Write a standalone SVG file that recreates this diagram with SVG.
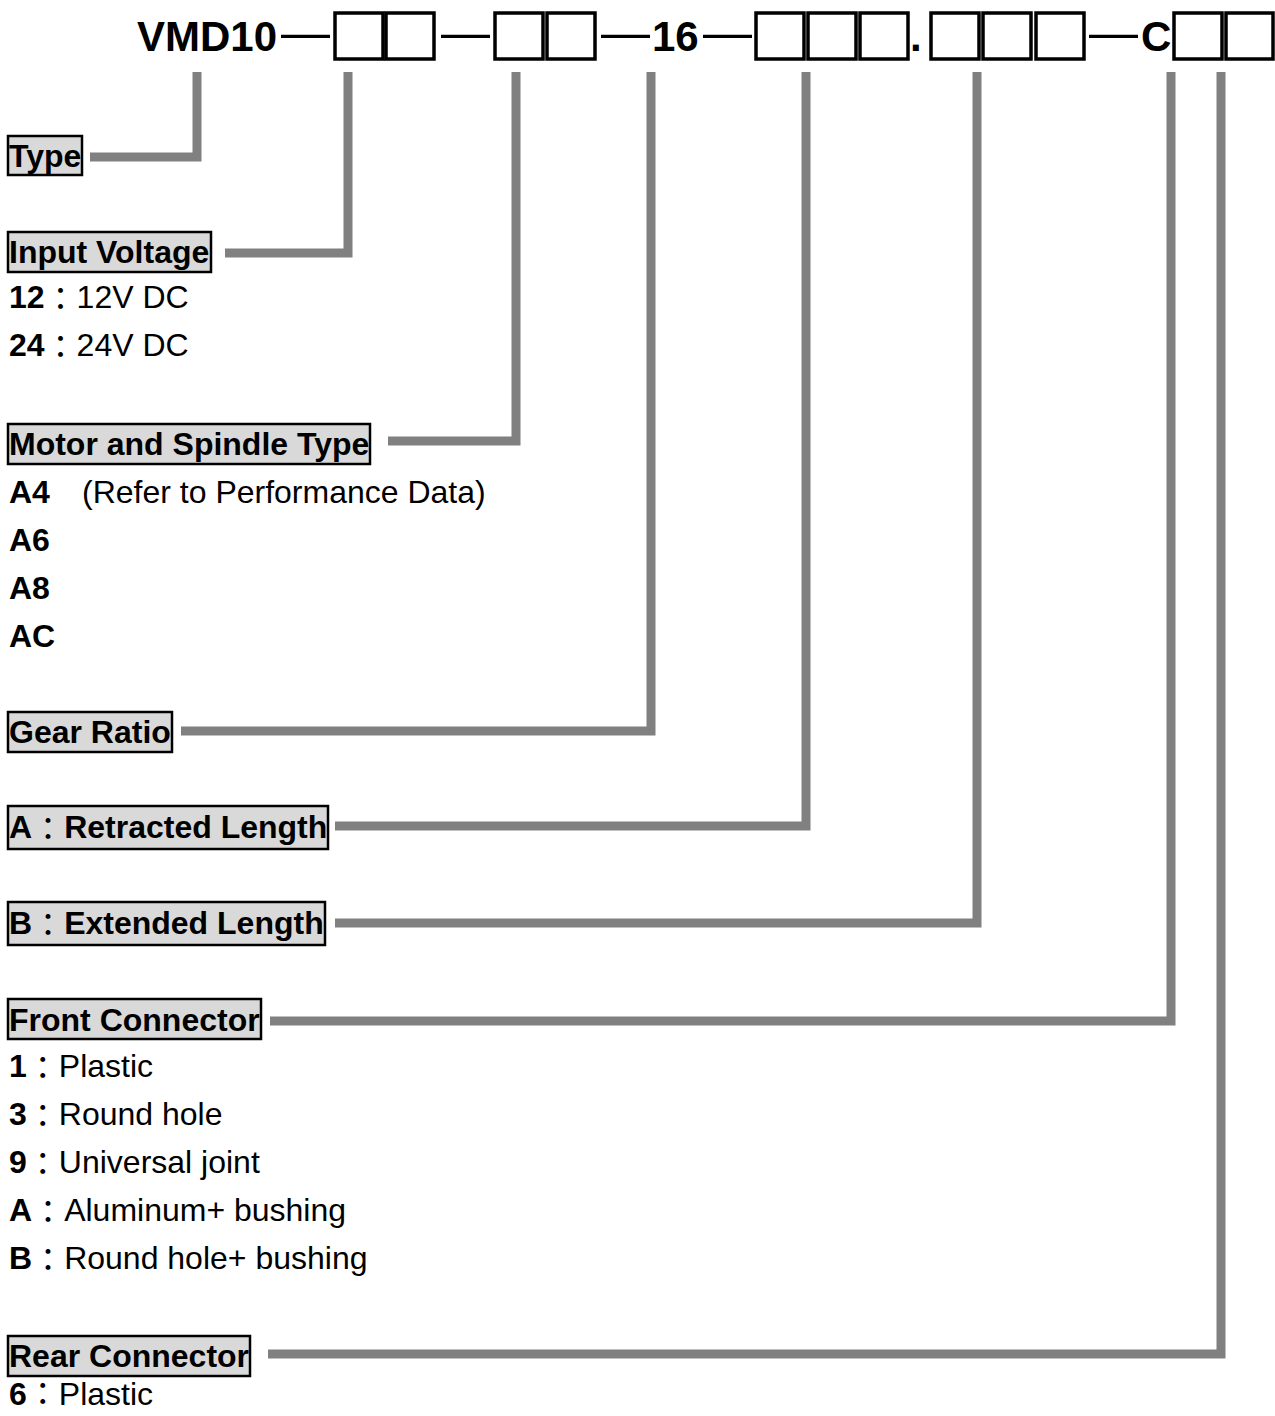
<svg xmlns="http://www.w3.org/2000/svg" width="1275" height="1416" viewBox="0 0 1275 1416">
<style>
  text { font-family: "Liberation Sans", Arial, sans-serif; fill: #000; }
  .hd { font-size: 42px; font-weight: bold; }
  .dash { font-size: 49px; font-weight: normal; }
  .lbl { font-size: 32px; font-weight: bold; }
  .body { font-size: 32px; }
  .b { font-weight: bold; }
  .cjk { font-family: "Liberation Sans", "Noto Sans CJK TC", sans-serif; font-weight: normal; }
  .box { fill: #fff; stroke: #000; stroke-width: 3.5; }
  .lblbox { fill: #d9d9d9; stroke: #000; stroke-width: 2.5; }
  .conn { fill: none; stroke: #808080; stroke-width: 9; stroke-linejoin: miter; stroke-linecap: butt; }
</style>
<rect width="1275" height="1416" fill="#fff"/>

<g id="header">
  <text class="hd" x="137" y="51">VMD10</text>
  <text class="dash" x="281" y="49" textLength="49" lengthAdjust="spacingAndGlyphs">—</text>
  <rect class="box" x="335" y="13" width="48" height="46"/>
  <rect class="box" x="386" y="13" width="48" height="46"/>
  <text class="dash" x="441" y="49" textLength="49" lengthAdjust="spacingAndGlyphs">—</text>
  <rect class="box" x="495" y="13" width="48" height="46"/>
  <rect class="box" x="547" y="13" width="48" height="46"/>
  <text class="dash" x="601" y="49" textLength="49" lengthAdjust="spacingAndGlyphs">—</text>
  <text class="hd" x="652" y="51">16</text>
  <text class="dash" x="703" y="49" textLength="49" lengthAdjust="spacingAndGlyphs">—</text>
  <rect class="box" x="756" y="13" width="48" height="46"/>
  <rect class="box" x="808" y="13" width="48" height="46"/>
  <rect class="box" x="860" y="13" width="48" height="46"/>
  <text class="hd" x="910" y="51">.</text>
  <rect class="box" x="931" y="13" width="48" height="46"/>
  <rect class="box" x="983" y="13" width="48" height="46"/>
  <rect class="box" x="1036" y="13" width="48" height="46"/>
  <text class="dash" x="1089" y="49" textLength="49" lengthAdjust="spacingAndGlyphs">—</text>
  <text class="hd" x="1141" y="51">C</text>
  <rect class="box" x="1174" y="13" width="48" height="46"/>
  <rect class="box" x="1226" y="13" width="47" height="46"/>
</g>

<g id="connectors">
  <path class="conn" d="M90,157 H197 V72"/>
  <path class="conn" d="M225,253 H348 V72"/>
  <path class="conn" d="M388,441 H516 V72"/>
  <path class="conn" d="M181,731 H651 V72"/>
  <path class="conn" d="M335,826 H806 V72"/>
  <path class="conn" d="M335,923 H977 V72"/>
  <path class="conn" d="M270,1021 H1171 V72"/>
  <path class="conn" d="M268,1354 H1221 V72"/>
</g>

<g id="type">
  <rect class="lblbox" x="8" y="136" width="74" height="39"/>
  <text class="lbl" x="9" y="167">Type</text>
</g>

<g id="input-voltage">
  <rect class="lblbox" x="8" y="232" width="203" height="40"/>
  <text class="lbl" x="9" y="263">Input Voltage</text>
  <text class="body" x="9" y="308"><tspan class="b">12</tspan><tspan class="cjk" dy="2">：</tspan><tspan dy="-2">12V DC</tspan></text>
  <text class="body" x="9" y="356"><tspan class="b">24</tspan><tspan class="cjk" dy="2">：</tspan><tspan dy="-2">24V DC</tspan></text>
</g>

<g id="motor-spindle">
  <rect class="lblbox" x="8" y="424" width="362" height="40"/>
  <text class="lbl" x="9" y="455">Motor and Spindle Type</text>
  <text class="body" x="9" y="503"><tspan class="b">A4</tspan><tspan x="82">(Refer to Performance Data)</tspan></text>
  <text class="body b" x="9" y="551">A6</text>
  <text class="body b" x="9" y="599">A8</text>
  <text class="body b" x="9" y="647">AC</text>
</g>

<g id="gear-ratio">
  <rect class="lblbox" x="8" y="712" width="164" height="40"/>
  <text class="lbl" x="9" y="743">Gear Ratio</text>
</g>

<g id="retracted-length">
  <rect class="lblbox" x="8" y="806" width="320" height="43"/>
  <text class="lbl" x="9" y="838">A<tspan class="cjk" dy="2">：</tspan><tspan dy="-2">Retracted Length</tspan></text>
</g>

<g id="extended-length">
  <rect class="lblbox" x="8" y="902" width="317" height="43"/>
  <text class="lbl" x="9" y="934">B<tspan class="cjk" dy="2">：</tspan><tspan dy="-2">Extended Length</tspan></text>
</g>

<g id="front-connector">
  <rect class="lblbox" x="8" y="999" width="253" height="40"/>
  <text class="lbl" x="9" y="1031">Front Connector</text>
  <text class="body" x="9" y="1077"><tspan class="b">1</tspan><tspan class="cjk" dy="2">：</tspan><tspan dy="-2">Plastic</tspan></text>
  <text class="body" x="9" y="1125"><tspan class="b">3</tspan><tspan class="cjk" dy="2">：</tspan><tspan dy="-2">Round hole</tspan></text>
  <text class="body" x="9" y="1173"><tspan class="b">9</tspan><tspan class="cjk" dy="2">：</tspan><tspan dy="-2">Universal joint</tspan></text>
  <text class="body" x="9" y="1221"><tspan class="b">A</tspan><tspan class="cjk" dy="2">：</tspan><tspan dy="-2">Aluminum+ bushing</tspan></text>
  <text class="body" x="9" y="1269"><tspan class="b">B</tspan><tspan class="cjk" dy="2">：</tspan><tspan dy="-2">Round hole+ bushing</tspan></text>
</g>

<g id="rear-connector">
  <rect class="lblbox" x="8" y="1336" width="242" height="40"/>
  <text class="lbl" x="9" y="1367">Rear Connector</text>
  <text class="body" x="9" y="1405"><tspan class="b">6</tspan><tspan class="cjk">：</tspan>Plastic</text>
</g>
</svg>
